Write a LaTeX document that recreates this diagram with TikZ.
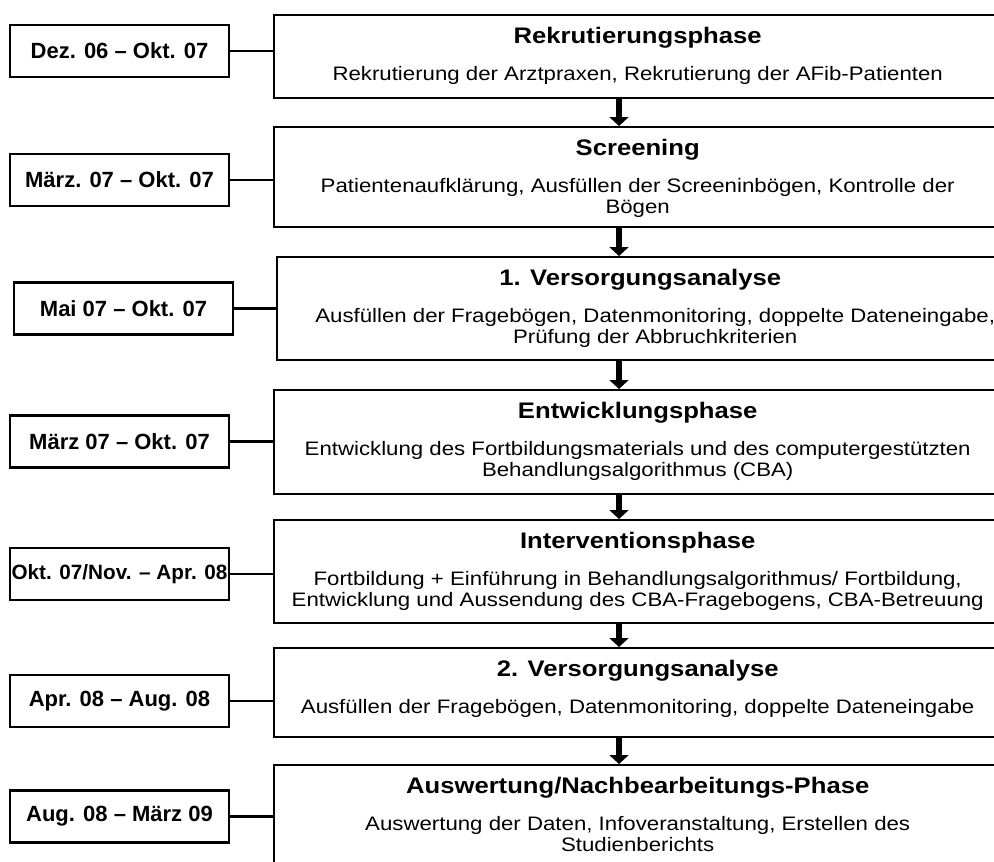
\documentclass[tikz,border=0pt]{standalone}
\usepackage{fontspec}
\usepackage{xcolor}
\usetikzlibrary{arrows.meta}
\setmainfont{Liberation Sans}
\newfontfamily\phasefont{Liberation Sans}[FakeStretch=1.14]

\newcommand{\phasetext}[3]{%
  \begin{minipage}[t][#1pt][t]{727pt}
    \centering
    \vspace*{12pt}
    {\phasefont\bfseries\fontsize{22.5}{27}\selectfont #2\par}
    \vspace{15.5pt}
    {\phasefont\fontsize{19.5}{21}\selectfont #3\par}
  \end{minipage}}

\tikzset{
  phasebox/.style={draw, line width=2.4pt, inner sep=0pt, anchor=north west},
  datebox/.style={draw, line width=2.4pt, minimum width=219pt, minimum height=52pt,
    inner sep=0pt, font=\bfseries\fontsize{22}{26}\selectfont},
  link/.style={line width=2.8pt},
  flowarrow/.style={line width=6pt, -{Triangle[width=19pt,length=9pt]}}
}

\begin{document}
\begin{tikzpicture}[x=1pt, y=-1pt]
    \useasboundingbox (0,0) rectangle (994,862);
    \clip (0,0) rectangle (994,862);

    % phases
    \node[phasebox] (p1) at (273,14)
       {\phasetext{83}{Rekrutierungsphase}
          {Rekrutierung der Arztpraxen, Rekrutierung der AFib-Patienten}};
    \node[phasebox] (p2) at (273,126)
       {\phasetext{100}{Screening}
          {Patientenaufklärung, Ausfüllen der Screeninbögen, Kontrolle der\\Bögen}};
    \node[phasebox] (p3) at (275.5,256)
       {\phasetext{103}{1. Versorgungsanalyse}
          {\hspace*{30pt}Ausfüllen der Fragebögen, Datenmonitoring, doppelte Dateneingabe,\\\hspace*{30pt}Prüfung der Abbruchkriterien}};
    \node[phasebox] (p4) at (273,389)
       {\phasetext{104}{Entwicklungsphase}
          {Entwicklung des Fortbildungsmaterials und des computergestützten\\Behandlungsalgorithmus (CBA)}};
    \node[phasebox] (p5) at (273,519)
       {\phasetext{103}{Interventionsphase}
          {Fortbildung + Einführung in Behandlungsalgorithmus/ Fortbildung,\\Entwicklung und Aussendung des CBA-Fragebogens, CBA-Betreuung}};
    \node[phasebox] (p6) at (273,647)
       {\phasetext{89}{2. Versorgungsanalyse}
          {Ausfüllen der Fragebögen, Datenmonitoring, doppelte Dateneingabe}};
    \node[phasebox] (p7) at (273,764)
       {\phasetext{115}{Auswertung/Nachbearbeitungs-Phase}
          {Auswertung der Daten, Infoveranstaltung, Erstellen des\\Studienberichts}};

    % dates
    \node[datebox] (d1) at (119.5,51) {Dez. 06 – Okt. 07};
    \node[datebox] (d2) at (119.5,180) {März. 07 – Okt. 07};
    \node[datebox] (d3) at (123.5,308.5) {Mai 07 – Okt. 07};
    \node[datebox] (d4) at (119.5,441.5) {März 07 – Okt. 07};
    \node[datebox, font=\bfseries\fontsize{20.7}{24}\selectfont] (d5) at (119.5,574) {Okt. 07/Nov. – Apr. 08};
    \node[datebox] (d6) at (119.5,701) {Apr. 08 – Aug. 08};
    \node[datebox] (d7) at (119.5,816.5) {Aug. 08 – März 09};

    \draw[link] (d1) -- (d1 -| p1.west);
    \draw[link] (d2) -- (d2 -| p2.west);
    \draw[link] (d3) -- (d3 -| p3.west);
    \draw[link] (d4) -- (d4 -| p4.west);
    \draw[link] (d5) -- (d5 -| p5.west);
    \draw[link] (d6) -- (d6 -| p6.west);
    \draw[link] (d7) -- (d7 -| p7.west);

    % arrows
    \coordinate (ax) at (619,0);
    \draw[flowarrow] (p1.south -| ax) -- (p2.north -| ax);
    \draw[flowarrow] (p2.south -| ax) -- (p3.north -| ax);
    \draw[flowarrow] (p3.south -| ax) -- (p4.north -| ax);
    \draw[flowarrow] (p4.south -| ax) -- (p5.north -| ax);
    \draw[flowarrow] (p5.south -| ax) -- (p6.north -| ax);
    \draw[flowarrow] (p6.south -| ax) -- (p7.north -| ax);
\end{tikzpicture}
\end{document}
